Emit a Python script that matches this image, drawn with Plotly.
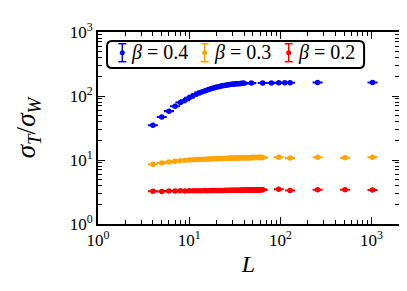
import plotly.graph_objects as go

# ---- data ----
L_b04 = list(range(4, 41)) + [48, 64, 80, 96, 112, 128, 256, 1024]
ratio_b04 = [35, 47, 58, 69, 79, 86, 94, 101, 107, 112, 117, 121, 125, 129, 132, 135, 138,
             140, 142, 144, 146, 147, 149, 150, 151, 152, 153, 154, 155, 155, 156, 156, 157,
             157, 158, 158, 158, 159, 160, 160, 161, 161, 161, 162, 162]

L_b03 = list(range(4, 65)) + [96, 128, 256, 512, 1024]
ratio_b03 = [8.6, 9.0, 9.3, 9.55, 9.75, 9.9, 10.0, 10.1, 10.15, 10.2, 10.25, 10.3, 10.35, 10.4,
             10.45, 10.5, 10.5, 10.55, 10.55, 10.6, 10.6, 10.6, 10.65, 10.65, 10.7, 10.7, 10.7,
             10.7, 10.75, 10.75, 10.75, 10.75, 10.8, 10.8, 10.8, 10.8, 10.8, 10.8, 10.85, 10.85,
             10.85, 10.85, 10.85, 10.85, 10.9, 10.9, 10.9, 10.9, 10.9, 10.9, 10.9, 10.9, 10.9,
             10.9, 10.9, 10.95, 10.95, 10.95, 10.95, 10.95, 10.95,
             11.0, 10.7, 11.0, 10.8, 11.0]

L_b02 = list(range(4, 65)) + [96, 128, 256, 512, 1024]
ratio_b02 = [3.25, 3.22, 3.28, 3.27, 3.3, 3.28, 3.3, 3.31, 3.3, 3.32, 3.31, 3.33, 3.32, 3.33,
             3.34, 3.33, 3.34, 3.35, 3.34, 3.35, 3.35, 3.36, 3.35, 3.36, 3.36, 3.37, 3.36, 3.37,
             3.37, 3.38, 3.37, 3.38, 3.38, 3.38, 3.39, 3.38, 3.39, 3.39, 3.39, 3.4, 3.39, 3.4,
             3.4, 3.4, 3.4, 3.4, 3.41, 3.4, 3.41, 3.41, 3.41, 3.41, 3.41, 3.42, 3.41, 3.42,
             3.42, 3.42, 3.42, 3.42, 3.42,
             3.48, 3.35, 3.42, 3.44, 3.40]

series_names = ["<i>β</i>&nbsp;=&nbsp;0.4", "<i>β</i>&nbsp;=&nbsp;0.3", "<i>β</i>&nbsp;=&nbsp;0.2"]
series_colors = ["#0000ff", "#ffa500", "#ff0000"]
series_x = [L_b04, L_b03, L_b02]
series_y = [ratio_b04, ratio_b03, ratio_b02]

x_tickvals = [1, 10, 100, 1000]
x_ticktext = ["10<sup>0</sup>", "10<sup>1</sup>", "10<sup>2</sup>", "10<sup>3</sup>"]
y_tickvals = [1, 10, 100, 1000]
y_ticktext = ["10<sup>0</sup>", "10<sup>1</sup>", "10<sup>2</sup>", "10<sup>3</sup>"]

FONT = "Liberation Serif"

fig = go.Figure()
for xs, ys, name, col in zip(series_x, series_y, series_names, series_colors):
    fig.add_trace(go.Scatter(
        x=xs, y=ys, mode="markers", name=name, showlegend=False,
        marker=dict(color=col, size=5.5, line=dict(width=0)),
        error_y=dict(type="percent", value=0.8, color=col, thickness=1.6, width=5),
    ))

# ---- manual legend (errorbar-style glyphs) ----
shapes = []
annotations = []
PW, PH = 301.0, 192.0
bx0, bx1, by0, by1 = 0.030, 0.884, 0.8125, 0.953
rx, ry = 5 / PW, 5 / PH
path = (f"M {bx0+rx},{by1} L {bx1-rx},{by1} Q {bx1},{by1} {bx1},{by1-ry} "
        f"L {bx1},{by0+ry} Q {bx1},{by0} {bx1-rx},{by0} L {bx0+rx},{by0} "
        f"Q {bx0},{by0} {bx0},{by0+ry} L {bx0},{by1-ry} Q {bx0},{by1} {bx0+rx},{by1} Z")
shapes.append(dict(type="path", xref="paper", yref="paper", path=path,
                   line=dict(color="black", width=2), fillcolor="white", layer="above"))
glyph_x = [(114.3 - 90) / PW, (196.7 - 90) / PW, (280.7 - 90) / PW]
gy = (216 - 44.7) / PH
for gx, name, col in zip(glyph_x, series_names, series_colors):
    common = dict(xref="paper", yref="paper", xsizemode="pixel", ysizemode="pixel",
                  xanchor=gx, yanchor=gy, layer="above")
    shapes.append(dict(type="line", x0=0, x1=0, y0=-9, y1=9, line=dict(color=col, width=1.5), **common))
    shapes.append(dict(type="line", x0=-4, x1=4, y0=9, y1=9, line=dict(color=col, width=1.5), **common))
    shapes.append(dict(type="line", x0=-4, x1=4, y0=-9, y1=-9, line=dict(color=col, width=1.5), **common))
    shapes.append(dict(type="circle", x0=-2.5, x1=2.5, y0=-2.5, y1=2.5,
                       fillcolor=col, line=dict(color=col, width=0), **common))
    annotations.append(dict(x=gx + 7 / PW, y=gy, xref="paper", yref="paper", text=name,
                            showarrow=False, xanchor="left", yanchor="middle",
                            font=dict(family=FONT, size=20, color="black")))

axis_common = dict(
    type="log", showgrid=False, zeroline=False, mirror="allticks",
    showline=True, linecolor="black", linewidth=2,
    ticks="inside", ticklen=7, tickwidth=1, tickcolor="black",
    minor=dict(ticks="inside", ticklen=4, tickwidth=1, tickcolor="black", dtick="D1", showgrid=False),
    tickfont=dict(family=FONT, size=17, color="black"),
)

fig.update_layout(
    width=407, height=291,
    margin=dict(l=90, r=16, t=24, b=75),
    paper_bgcolor="white", plot_bgcolor="white",
    xaxis=dict(range=[0, 3.301], tickvals=x_tickvals, ticktext=x_ticktext,
               title=dict(text="<i>L</i>", font=dict(family=FONT, size=24, color="black"), standoff=6),
               **axis_common),
    yaxis=dict(range=[0, 3], tickvals=y_tickvals, ticktext=y_ticktext,
               title=dict(text="<i>σ</i><sub><i>T</i></sub>/<i>σ</i><sub><i>W</i></sub>",
                          font=dict(family=FONT, size=27, color="black"), standoff=26),
               **axis_common),
    shapes=shapes, annotations=annotations,
)

fig.write_html("out.html")
